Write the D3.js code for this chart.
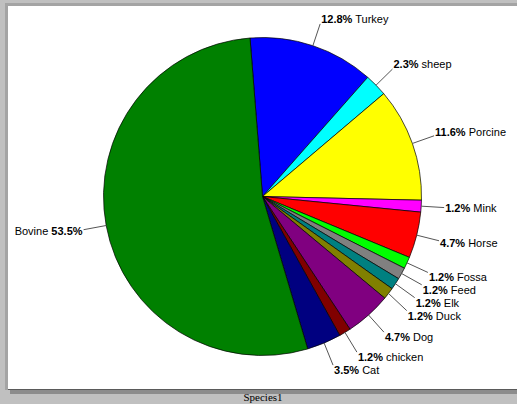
<!DOCTYPE html>
<html>
<head>
<meta charset="utf-8">
<script src="https://cdn.jsdelivr.net/npm/d3@7"></script>
<style>
  html, body { margin: 0; padding: 0; background: #c0c0c0; }
  svg { display: block; }
</style>
</head>
<body>
<svg id="chart" width="517" height="404"></svg>
<script>
// Species share of samples, clockwise from the top
const categories = ["Turkey", "sheep", "Porcine", "Mink", "Horse", "Fossa", "Feed",
                    "Elk", "Duck", "Dog", "chicken", "Cat", "Bovine"];
const shares = [12.8, 2.3, 11.6, 1.2, 4.7, 1.2, 1.2, 1.2, 1.2, 4.7, 1.2, 3.5, 53.5];
const palette = ["#0000ff", "#00ffff", "#ffff00", "#ff00ff", "#ff0000", "#00ff00", "#808080",
                 "#008080", "#808000", "#800080", "#800000", "#000080", "#008000"];
const seriesName = "Species1";

const W = 517, H = 404;
const svg = d3.select("#chart");

// window frame: grey surround, bevel and white plot panel
svg.append("rect").attr("x", 0).attr("y", 0).attr("width", W).attr("height", H).attr("fill", "#c0c0c0");
svg.append("rect").attr("x", 10).attr("y", 8).attr("width", W - 10).attr("height", 386).attr("fill", "#8c8c8c");
svg.append("rect").attr("x", 5).attr("y", 3).attr("width", W - 5).attr("height", 387).attr("fill", "#a4a4a4");
svg.append("rect").attr("x", 8).attr("y", 6).attr("width", W - 8).attr("height", 383).attr("fill", "#ffffff");
svg.append("line").attr("x1", 8).attr("x2", W).attr("y1", 389.5).attr("y2", 389.5)
  .attr("stroke", "#5a5a5a").attr("stroke-width", 1);

svg.append("text")
  .attr("x", 263).attr("y", 401)
  .attr("text-anchor", "middle")
  .attr("font-family", "'Liberation Serif', 'Times New Roman', serif")
  .attr("font-size", 11)
  .attr("fill", "#000")
  .text(seriesName);

// pie geometry
const cx = 262.5, cy = 196.5, r = 159, R = 182;
const deg = Math.PI / 180;
const start = -4.5 * deg;

const color = d3.scaleOrdinal(categories, palette);
const pie = d3.pie().sort(null).value(d => d.v).startAngle(start).endAngle(start + 2 * Math.PI);
const arc = d3.arc().innerRadius(0).outerRadius(r);

const rows = categories.map((c, i) => ({ name: c, v: shares[i] }));
const arcs = pie(rows);

const g = svg.append("g").attr("transform", `translate(${cx},${cy})`);
g.selectAll("path.slice")
  .data(arcs)
  .join("path")
  .attr("class", "slice")
  .attr("d", arc)
  .attr("fill", d => color(d.data.name))
  .attr("stroke", "#000")
  .attr("stroke-width", 0.7)
  .attr("stroke-linejoin", "round");

// label layout: anchor beyond the rim on the slice's mid angle
const clamp = (x, a, b) => Math.max(a, Math.min(b, x));
const labels = arcs.map(d => {
  const mid = (d.startAngle + d.endAngle) / 2;
  const s = Math.sin(mid), c = -Math.cos(mid);
  const ax = cx + R * s, ay = cy + R * c;
  const ty = ay + 5 * clamp(2 * c, -1, 1);
  return {
    d, mid, right: s >= 0,
    sx: cx + r * s, sy: cy + r * c,
    ax, ay, ty0: ty, ty
  };
});

// keep labels on each side at least one line apart
["right", "left"].forEach(side => {
  const grp = labels.filter(l => (side === "right") === l.right).sort((a, b) => a.ty - b.ty);
  for (let i = 1; i < grp.length; i++) {
    if (grp[i].ty < grp[i - 1].ty + 13) grp[i].ty = grp[i - 1].ty + 13;
  }
});

const lg = svg.append("g");
lg.selectAll("line.leader")
  .data(labels)
  .join("line")
  .attr("class", "leader")
  .attr("x1", l => l.sx).attr("y1", l => l.sy)
  .attr("x2", l => l.ax).attr("y2", l => l.ay + (l.ty - l.ty0))
  .attr("stroke", "#555")
  .attr("stroke-width", 1);

const fmt = d3.format(".1f");
const txt = lg.selectAll("text.lbl")
  .data(labels)
  .join("text")
  .attr("class", "lbl")
  .attr("x", l => l.right ? l.ax + 1 : l.ax - 1)
  .attr("y", l => l.ty)
  .attr("dy", "0.36em")
  .attr("text-anchor", l => l.right ? "start" : "end")
  .attr("font-family", "'Liberation Sans', Arial, sans-serif")
  .attr("font-size", 11)
  .attr("fill", "#000");

txt.each(function (l) {
  const t = d3.select(this);
  const pct = fmt(l.d.data.v) + "%";
  if (l.right) {
    t.append("tspan").attr("font-weight", "bold").text(pct);
    t.append("tspan").text(" " + l.d.data.name);
  } else {
    t.append("tspan").text(l.d.data.name + " ");
    t.append("tspan").attr("font-weight", "bold").text(pct);
  }
});
</script>
</body>
</html>
